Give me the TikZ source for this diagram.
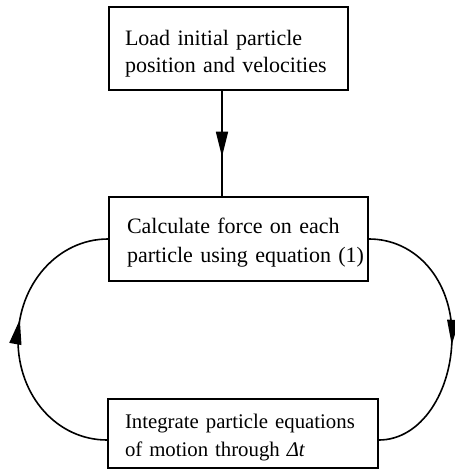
\documentclass[tikz,border=0pt]{standalone}
\usepackage{fontspec}
\setmainfont{Liberation Serif}
\usetikzlibrary{arrows.meta,decorations.markings}
\tikzset{
  box/.style={draw=black, line width=1.9pt, align=left, inner ysep=0pt},
  conn/.style={line width=1.6pt, black},
  tipmark/.style={postaction={decorate, decoration={markings,
      mark=at position #1 with {\arrow{Triangle[length=25pt,width=12pt]}}}}},
}
\begin{document}
\begin{tikzpicture}[x=1pt,y=-1pt]
\useasboundingbox (0,0) rectangle (454,470);
\node[box, minimum width=239pt, minimum height=83pt, text width=207pt, inner xsep=16pt,
      font=\fontsize{22}{27}\selectfont] (load) at (228.5,48.5)
  {\rule{0pt}{25pt}Load initial particle\\\mbox{position and velocities}};
\node[box, minimum width=259pt, minimum height=84pt, text width=223pt, inner xsep=18pt,
      font=\fontsize{22}{29}\selectfont] (calc) at (238.5,239)
  {\rule{0pt}{22pt}Calculate force on each\\\mbox{particle using equation (1)}};
\node[box, minimum width=270pt, minimum height=69pt, text width=236pt, inner xsep=17pt,
      font=\fontsize{20.8}{28}\selectfont] (integ) at (243,433.5)
  {\rule{0pt}{22pt}\mbox{Integrate particle equations}\\of motion through \textit{Δt}};
\coordinate (lx) at (18,340);
\coordinate (rx) at (452,336);
\draw[conn, tipmark=0.626] ([xshift=-6.5pt]load.south) -- ([xshift=-6.5pt]load.south |- calc.north);
\draw[conn, tipmark=0.567] ([yshift=-6.5pt]integ.west) .. controls +(-50,0) and +(0,56) .. (lx)
  .. controls +(0,-56) and +(-50,0) .. (calc.west);
\draw[conn, tipmark=0.535] (calc.east) .. controls +(47,0) and +(0,-56) .. (rx)
  .. controls +(0,56) and +(42,0) .. ([yshift=-6.5pt]integ.east);
\end{tikzpicture}
\end{document}
